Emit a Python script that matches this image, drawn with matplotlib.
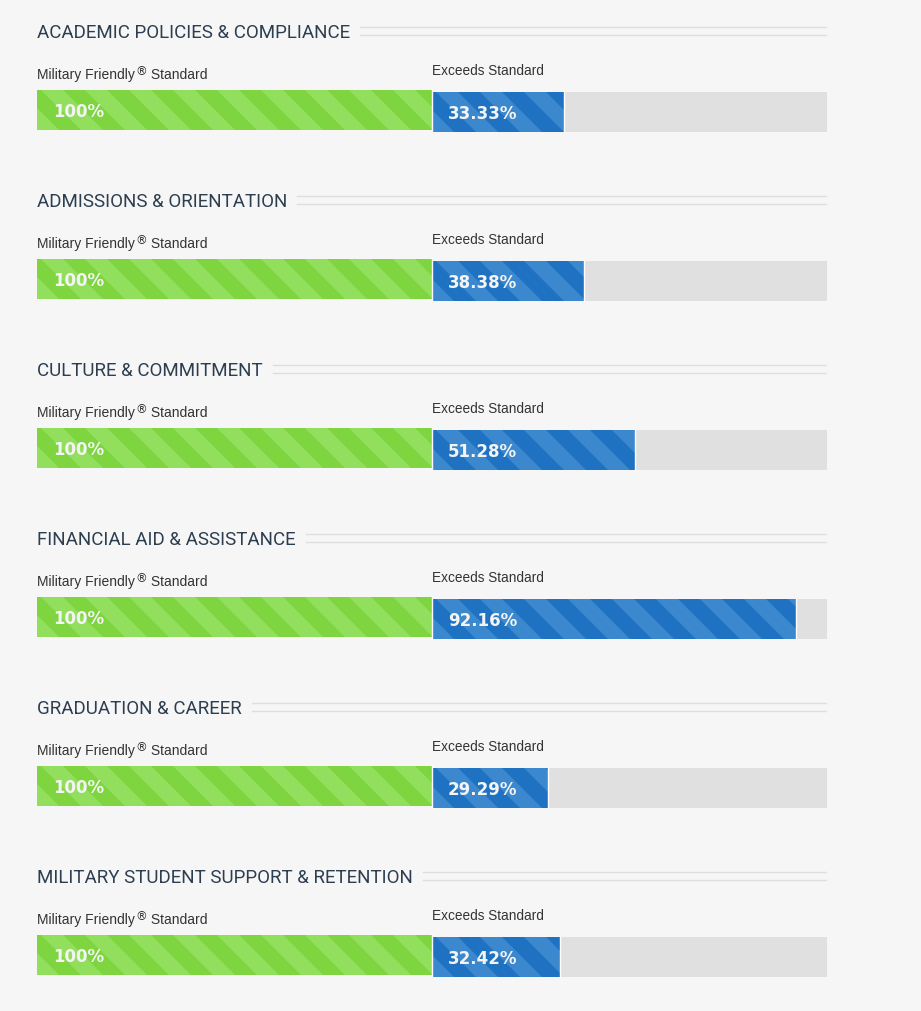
import matplotlib.pyplot as plt
from matplotlib.patches import Polygon

# data
categories = [
    "ACADEMIC POLICIES & COMPLIANCE",
    "ADMISSIONS & ORIENTATION",
    "CULTURE & COMMITMENT",
    "FINANCIAL AID & ASSISTANCE",
    "GRADUATION & CAREER",
    "MILITARY STUDENT SUPPORT & RETENTION",
]
standard = [100, 100, 100, 100, 100, 100]
exceeds = [33.33, 38.38, 51.28, 92.16, 29.29, 32.42]

BG = "#f6f6f6"
GREEN, GREEN_LT = "#7ed53f", "#92df5e"
BLUE, BLUE_LT = "#1f72c1", "#3c88ce"
GRAY = "#e0e0e0"
TITLE_C = "#2d3e50"

W, H = 921, 1012
STEP = 169          # px between sections
PX_PER_UNIT = 790 / 200.0

fig = plt.figure(figsize=(W / 100, H / 100), dpi=100, facecolor=BG)
ax = fig.add_axes([37 / W, 0, 790 / W, 1])
ax.set_facecolor(BG)
ax.set_xlim(0, 200)
ax.set_ylim(H, 0)
ax.axis("off")


def stripes(bar, x0, x1, yc, h, light):
    # diagonal "\" stripes clipped to the bar
    period = 44 / PX_PER_UNIT
    shift = h / PX_PER_UNIT
    s = x0 - shift - period
    while s < x1:
        poly = Polygon([(s, yc - h / 2), (s + period / 2, yc - h / 2),
                        (s + period / 2 + shift, yc + h / 2), (s + shift, yc + h / 2)],
                       closed=True, facecolor=light, edgecolor="none", zorder=2)
        ax.add_patch(poly)
        poly.set_clip_path(bar)
        s += period


titles = []
for i, (cat, std, exc) in enumerate(zip(categories, standard, exceeds)):
    off = i * STEP
    t = ax.text(0, 33 + off, cat, fontsize=13.5, family="Roboto", color=TITLE_C,
                va="center", ha="left")
    titles.append((t, off))

    lab = ax.text(0, 75 + off, "Military Friendly", fontsize=10, family="Liberation Sans",
                  color="#333333", va="center", ha="left")
    ax.annotate("®", xy=(1, 0.75), xycoords=lab, xytext=(0.5, 0),
                textcoords="offset points", fontsize=8.5, family="DejaVu Sans",
                color="#333333", va="center", ha="left")
    ax.annotate(" Standard", xy=(1, 0.5), xycoords=lab, xytext=(8.5, 0),
                textcoords="offset points", fontsize=10, family="Liberation Sans",
                color="#333333", va="center", ha="left")
    ax.text(std, 71 + off, "Exceeds Standard", fontsize=9.8, family="Liberation Sans",
            color="#333333", va="center", ha="left")

    # grey track and blue bar
    ax.barh(113 + off, 100, left=std, height=40, color=GRAY, zorder=1)
    b = ax.barh(113 + off, exc, left=std, height=40, color=BLUE, edgecolor="none", zorder=1)[0]
    stripes(b, std, std + exc, 113 + off, 40, BLUE_LT)
    ax.plot([std + exc, std + exc], [93 + off, 133 + off], color="white", lw=1, zorder=3)

    g = ax.barh(111 + off, std, height=40, color=GREEN, edgecolor="none", zorder=1)[0]
    stripes(g, 0, std, 111 + off, 40, GREEN_LT)
    ax.plot([std, std], [91 + off, 133 + off], color="white", lw=1, zorder=3)

    ax.text(16 / PX_PER_UNIT, 112 + off, f"{std}%", fontsize=12, fontweight="bold",
            family="DejaVu Sans", color="#f4f4f4", va="center", ha="left", zorder=4)
    ax.text(std + 16 / PX_PER_UNIT, 114 + off, f"{exc:.2f}%", fontsize=12, fontweight="bold",
            family="DejaVu Sans", color="#f4f4f4", va="center", ha="left", zorder=4)

# divider lines after each title
fig.canvas.draw()
r = fig.canvas.get_renderer()
inv = ax.transData.inverted()
for t, off in titles:
    bb = t.get_window_extent(r)
    xs = inv.transform((bb.x1 + 10, 0))[0]
    for y in (28, 36):
        ax.plot([xs, 200], [y + off, y + off], color="#dedede", lw=1, zorder=1)

fig.savefig("out.png", dpi=100, facecolor=BG)
